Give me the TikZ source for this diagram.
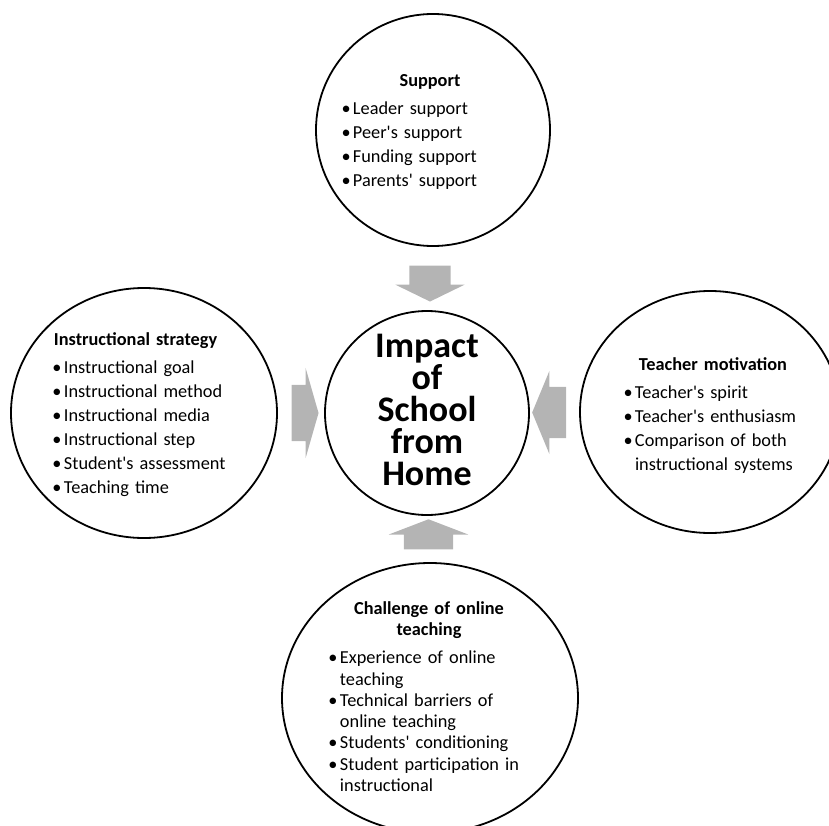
\documentclass[tikz,border=0pt]{standalone}
\usepackage{fontspec}
\setmainfont{Carlito}[Ligatures=TeXOff]
\usepackage{tikz}
\usetikzlibrary{shapes.geometric, shapes.arrows, positioning, calc}
\definecolor{arrowgray}{RGB}{180, 180, 180}
\newcommand{\bpt}[1]{\par\hangindent=10pt\hangafter=1\noindent\makebox[10pt][l]{\hspace{-1.5pt}\textbullet}#1}

\begin{document}
\begin{tikzpicture}[
  x=1pt, y=1pt,
  circ/.style     = {ellipse, draw=black, line width=1.8pt, inner sep=0pt, outer sep=0pt},
  txt/.style      = {inner sep=0pt, align=left, font=\fontsize{18.3}{24}\selectfont},
  blockarr/.style = {single arrow, fill=arrowgray, draw=none, inner xsep=0pt, outer sep=0pt}
]
\useasboundingbox (-427,-412) rectangle (402,413);

\node[circ, minimum width=204pt, minimum height=204pt] (imp) at (0,0) {};
\node[circ, minimum width=234pt, minimum height=232pt, above=65pt of imp, xshift=6pt] (sup) {};
\node[circ, minimum width=266pt, minimum height=250pt, left=48pt of imp] (str) {};
\node[circ, minimum width=260pt, minimum height=242pt, right=51pt of imp, yshift=1pt] (mot) {};
\node[circ, minimum width=296pt, minimum height=270pt, below=48pt of imp, xshift=3pt] (chl) {};

\node[inner sep=0pt, align=center, font=\bfseries\fontsize{36}{32}\selectfont, yshift=3pt] (imptxt) at (imp)
  {Impact\\of\\School\\from\\Home};

\node[txt, text width=174pt, xshift=-3pt, yshift=-2pt] (suptxt) at (sup)
  {{\centering\bfseries Support\par}\vspace{4pt}
   \bpt{Leader support}\bpt{Peer's support}\bpt{Funding support}\bpt{Parents' support}\par};
\node[txt, text width=178pt, xshift=-1pt, yshift=-1.5pt] (strtxt) at (str)
  {{\bfseries Instructional strategy\par}\vspace{4pt}
   \bpt{Instructional goal}\bpt{Instructional method}\bpt{Instructional media}
   \bpt{Instructional step}\bpt{Student's assessment}\bpt{Teaching time}\par};
\node[txt, text width=176pt, xshift=3pt, yshift=-4pt] (mottxt) at (mot)
  {{\centering\bfseries Teacher motivation\par}\vspace{4pt}
   \bpt{Teacher's spirit}\bpt{Teacher's enthusiasm}\bpt{Comparison of both\newline instructional systems}\par};
\node[txt, text width=198pt, xshift=-1pt, yshift=1.5pt, font=\fontsize{18.3}{21.3}\selectfont] (chltxt) at (chl)
  {{\centering\bfseries Challenge of online\par teaching\par}\vspace{7pt}
   \bpt{Experience of online\newline teaching}\bpt{Technical barriers of\newline online teaching}
   \bpt{Students' conditioning}\bpt{Student participation in\newline instructional}\par};

\node[blockarr, rotate=-90, minimum height=36pt, inner ysep=20.5pt, single arrow head extend=14pt,
      single arrow tip angle=128] (a1) at ($(sup.south)!0.5!(imp.north)$) {};
\node[blockarr, minimum height=27pt, inner ysep=28pt, single arrow head extend=17pt,
      single arrow tip angle=148] (a2) at ($(str.east)!0.5!(imp.west)$) {};
\node[blockarr, rotate=180, minimum height=34pt, inner ysep=25.5pt, single arrow head extend=16pt,
      single arrow tip angle=135] (a3) at ($(mot.west)!0.5!(imp.east)$) {};
\node[blockarr, rotate=90, minimum height=30pt, inner ysep=24.5pt, single arrow head extend=15pt,
      single arrow tip angle=138] (a4) at ($(chl.north)!0.5!(imp.south)$) {};

\end{tikzpicture}
\end{document}
